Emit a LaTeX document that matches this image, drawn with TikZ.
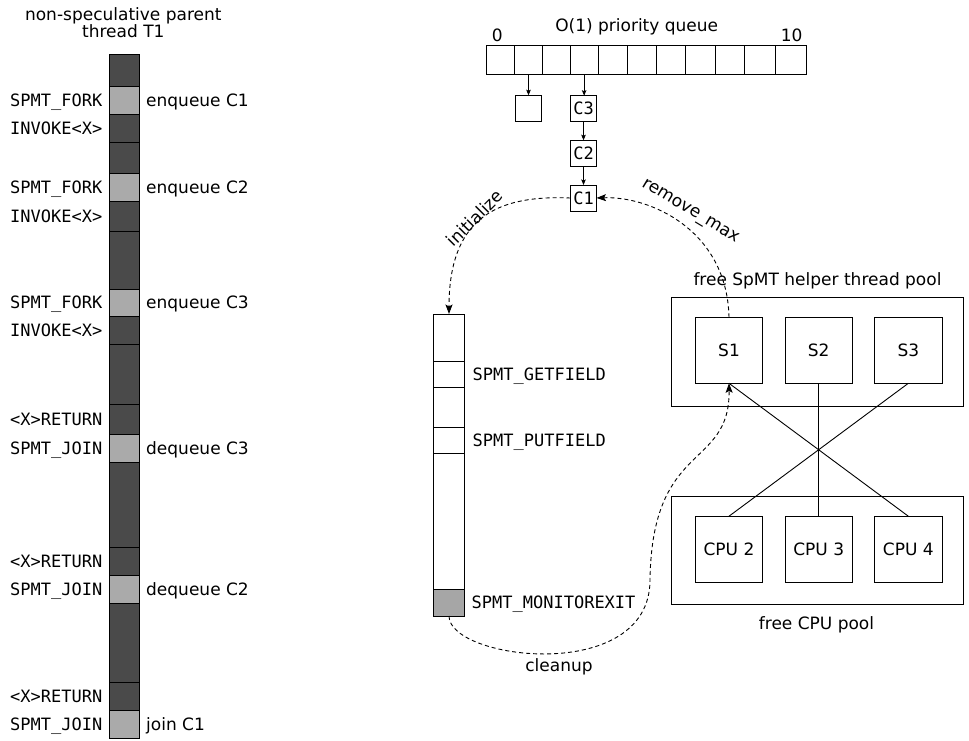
\documentclass[tikz,border=0pt]{standalone}
\usepackage{fontspec}
\setmainfont{DejaVu Sans}
\setsansfont{DejaVu Sans}
\setmonofont{DejaVu Sans Mono}
\usetikzlibrary{arrows.meta,calc}
\definecolor{dk}{HTML}{4A4A4A}
\definecolor{lt}{HTML}{AAAAAA}
\definecolor{mg}{HTML}{A6A6A6}
\begin{document}
\begin{tikzpicture}[x=1pt,y=-1pt,
  every node/.style={font=\fontsize{17}{17}\selectfont, inner sep=1pt},
  txt/.style={text height=14pt, text depth=1.6pt},
  mono/.style={txt, font=\fontsize{17}{17}\selectfont\ttfamily},
  seg/.style={draw=black, line width=0.9pt, minimum width=30pt, inner sep=0pt, outer sep=0pt, anchor=north},
  mseg/.style={draw=black, line width=0.9pt, fill=white, minimum width=31pt, inner sep=0pt, outer sep=0pt, anchor=north},
  cell/.style={draw=black, line width=0.9pt, minimum height=28.3pt, inner sep=0pt, outer sep=0pt, anchor=north west},
  cbox/.style={draw=black, line width=0.9pt, minimum width=26pt, minimum height=26pt, inner sep=0pt, outer sep=0pt, font=\fontsize{17}{17}\selectfont\ttfamily},
  pool/.style={draw=black, line width=0.9pt, minimum width=291.6pt, minimum height=108.3pt, inner sep=0pt, outer sep=0pt},
  unit/.style={draw=black, line width=0.9pt, minimum width=67.4pt, minimum height=66pt, inner sep=0pt, outer sep=0pt},
  sarr/.style={line width=0.9pt, -{Stealth[length=5.5pt,width=4.5pt,inset=1pt]}},
  darr/.style={line width=0.9pt, dash pattern=on 4pt off 3pt, -{Stealth[length=9.5pt,width=7pt,inset=2pt]}},
  link/.style={line width=0.9pt}
]
\useasboundingbox (0,0) rectangle (969,740);

% ---------- parent thread T1 ----------
\node[align=center, font=\fontsize{17}{16.6}\selectfont] (title) at (123.3,22.6) {non-speculative parent\\thread T1};

\foreach \t/\b/\c [count=\i] in {54/86/dk, 86/114/lt, 114/142/dk, 142/173/dk, 173/201/lt, 201/231/dk,
  231/289/dk, 289/316/lt, 316/344/dk, 344/404/dk, 404/434/dk, 434/462/lt, 462/547/dk, 547/575/dk,
  575/603/lt, 603/682/dk, 682/710/dk, 710/738/lt} {
  \pgfmathsetmacro\h{\b-\t}
  \node[seg, fill=\c, minimum height=\h pt] (s\i) at (124,\t) {};
}

\foreach \i/\lab in {2/SPMT\_FORK, 3/INVOKE<X>, 5/SPMT\_FORK, 6/INVOKE<X>, 8/SPMT\_FORK, 9/INVOKE<X>,
  11/<X>RETURN, 12/SPMT\_JOIN, 14/<X>RETURN, 15/SPMT\_JOIN, 17/<X>RETURN, 18/SPMT\_JOIN} {
  \node[mono, anchor=east] (ll\i) at ($(s\i.west)+(-5.5,0)$) {\lab};
}
\foreach \i/\lab in {2/enqueue C1, 5/enqueue C2, 8/enqueue C3, 12/dequeue C3, 15/dequeue C2, 18/join C1} {
  \node[txt, anchor=west] (rl\i) at ($(s\i.east)+(6,0)$) {\lab};
}

% ---------- priority queue ----------
\node[txt] (qtitle) at (636.7,25.3) {O(1) priority queue};
\node[txt] (q0lab) at (497.3,35.3) {0};
\node[txt] (q10lab) at (791.7,35.3) {10};
\foreach \l/\r [count=\i from 0] in {486.7/514.7, 514.7/542.3, 542.3/570, 570/598.3, 598.3/627.3,
  627.3/656, 656/685, 685/715, 715/744, 744/775.3, 775.3/806} {
  \pgfmathsetmacro\w{\r-\l}
  \node[cell, minimum width=\w pt] (q\i) at (\l,45.7) {};
}
\node[cbox] (e)  at (528.3,108.3) {};
\node[cbox] (c3) at (583.5,108.7) {C3};
\node[cbox] (c2) at (583.5,153.3) {C2};
\node[cbox] (c1) at (583.5,198) {C1};
\draw[sarr] (q1.south) -- (q1.south |- e.north);
\draw[sarr] (q3.south) -- (q3.south |- c3.north);
\draw[sarr] (c3) -- (c2);
\draw[sarr] (c2) -- (c1);

% ---------- speculative method ----------
\foreach \t/\b/\c [count=\i] in {314/361/white, 361/387/white, 387/427.3/white, 427.3/453/white,
  453/589.3/white, 589.3/616/mg} {
  \pgfmathsetmacro\h{\b-\t}
  \node[mseg, fill=\c, minimum height=\h pt] (m\i) at (449,\t) {};
}
\node[mono, anchor=west] (mg2) at ($(m2.east)+(7,0)$) {SPMT\_GETFIELD};
\node[mono, anchor=west] (mg4) at ($(m4.east)+(7,0)$) {SPMT\_PUTFIELD};
\node[mono, anchor=west] (mg6) at ($(m6.east)+(6,0)$) {SPMT\_MONITOREXIT};

% ---------- pools ----------
\node[txt] (hptitle) at (817.5,279.7) {free SpMT helper thread pool};
\node[pool] (hpool) at (817.5,351.85) {};
\node[pool] (cpool) at (817.5,550.15) {};
\node[txt] (cptitle) at (816.5,623.5) {free CPU pool};
\node[unit] (S1) at (729,350.3) {S1};
\node[unit] (S2) at (818.7,350.3) {S2};
\node[unit] (S3) at (908.3,350.3) {S3};
\node[unit] (P2) at (729,549.2) {CPU 2};
\node[unit] (P3) at (818.7,549.2) {CPU 3};
\node[unit] (P4) at (908.3,549.2) {CPU 4};
\draw[link] (S1.south) -- (P4.north);
\draw[link] (S2.south) -- (P3.north);
\draw[link] (S3.south) -- (P2.north);

% ---------- dashed flows ----------
\draw[darr] (c1.west) .. controls (500,195) and (449,215) .. (m1.north);
\node[font=\fontsize{17}{17}\selectfont, rotate=45] (lin) at (474.5,218) {initialize};
\draw[darr] (S1.north) .. controls (727,230) and (650,196) .. (c1.east);
\node[font=\fontsize{17}{17}\selectfont, rotate=-31] (lrm) at (690.5,212) {remove\_max};
\coordinate (cm) at (650,580);
\draw[darr] (m6.south) .. controls (449,660) and (650,685) .. (cm)
  .. controls (652,440) and (730,470) .. (S1.south);
\node[txt] (lcl) at (559,665.5) {cleanup};
\end{tikzpicture}
\end{document}
